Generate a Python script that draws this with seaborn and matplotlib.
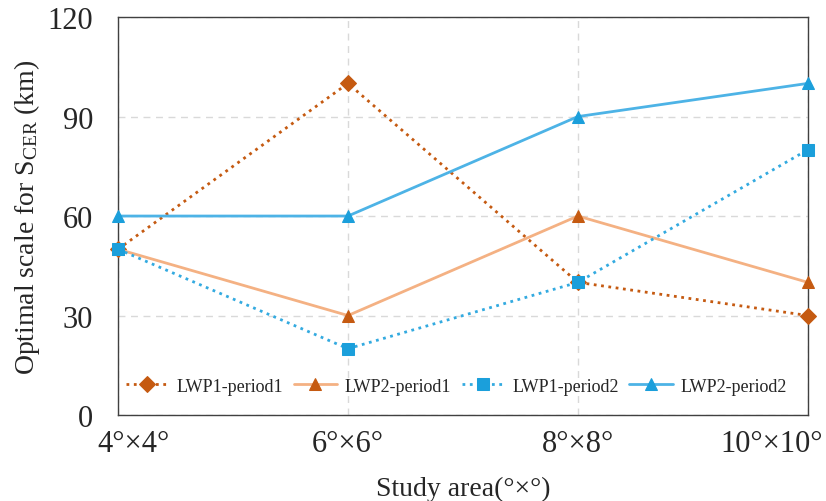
import matplotlib
matplotlib.use("Agg")
import matplotlib.pyplot as plt
import matplotlib.transforms as mtransforms
import seaborn as sns
import pandas as pd

categories = ["4°×4°", "6°×6°", "8°×8°", "10°×10°"]
lwp1_period1 = [50, 100, 40, 30]
lwp2_period1 = [50, 30, 60, 40]
lwp1_period2 = [50, 20, 40, 80]
lwp2_period2 = [60, 60, 90, 100]
y_ticks = [0, 30, 60, 90, 120]

sns.set_theme(style="white")
plt.rcParams["font.family"] = ["Liberation Serif", "DejaVu Serif"]
plt.rcParams["mathtext.fontset"] = "custom"
plt.rcParams["mathtext.rm"] = "Liberation Serif"
plt.rcParams["mathtext.it"] = "Liberation Serif:italic"

fig = plt.figure(figsize=(8.26, 5.02), dpi=100)
ax = fig.add_axes([0.1429, 0.1713, 0.978 - 0.1429, 0.964 - 0.1713])

x = list(range(len(categories)))
series = [
    ("LWP1-period1", lwp1_period1, dict(color="#C55A11", linestyle=":", marker="D", mfc="#C55A11", mec="#C55A11", ms=8)),
    ("LWP2-period1", lwp2_period1, dict(color="#F4B183", linestyle="-", marker="^", mfc="#C55A11", mec="#C55A11", ms=9)),
    ("LWP1-period2", lwp1_period2, dict(color="#33AAE0", linestyle=":", marker="s", mfc="#1B9FDB", mec="#1B9FDB", ms=8)),
    ("LWP2-period2", lwp2_period2, dict(color="#4DB3E6", linestyle="-", marker="^", mfc="#1B9FDB", mec="#1B9FDB", ms=9)),
]
for name, vals, st in series:
    df = pd.DataFrame({"x": x, "y": vals})
    sns.lineplot(data=df, x="x", y="y", ax=ax, label=name, color=st["color"],
                 linestyle=st["linestyle"], marker=st["marker"], markersize=st["ms"],
                 markerfacecolor=st["mfc"], markeredgecolor=st["mec"], linewidth=2,
                 clip_on=False, zorder=3)

ax.set_xlim(0, 3)
ax.set_ylim(0, 120)
ax.set_xticks(x)
ax.set_xticklabels(categories)
ax.set_yticks(y_ticks)
ax.tick_params(axis="y", labelsize=22, length=0, pad=18)
ax.tick_params(axis="x", labelsize=22, length=0, pad=10)
labels = ax.get_xticklabels()
labels[0].set_transform(labels[0].get_transform() + mtransforms.ScaledTranslation(15 / 100, 0, fig.dpi_scale_trans))
labels[-1].set_transform(labels[-1].get_transform() + mtransforms.ScaledTranslation(-36 / 100, 0, fig.dpi_scale_trans))
ax.grid(True, linestyle=(0, (5, 4)), color="#D9D9D9", linewidth=1)
ax.set_axisbelow(True)
for sp in ax.spines.values():
    sp.set_color("#404040")
    sp.set_linewidth(1.0)
ax.set_xlabel("Study area(°×°)", fontsize=20, labelpad=13)
ax.set_ylabel("Optimal scale for S$_{\\mathrm{CER}}$ (km)", fontsize=20, labelpad=4)
leg = ax.legend(loc="lower center", bbox_to_anchor=(0.49, 0.01), ncol=4, frameon=False,
                fontsize=13, handlelength=2.4, columnspacing=0.6, handletextpad=0.4)
fig.savefig("out.png", dpi=100)
